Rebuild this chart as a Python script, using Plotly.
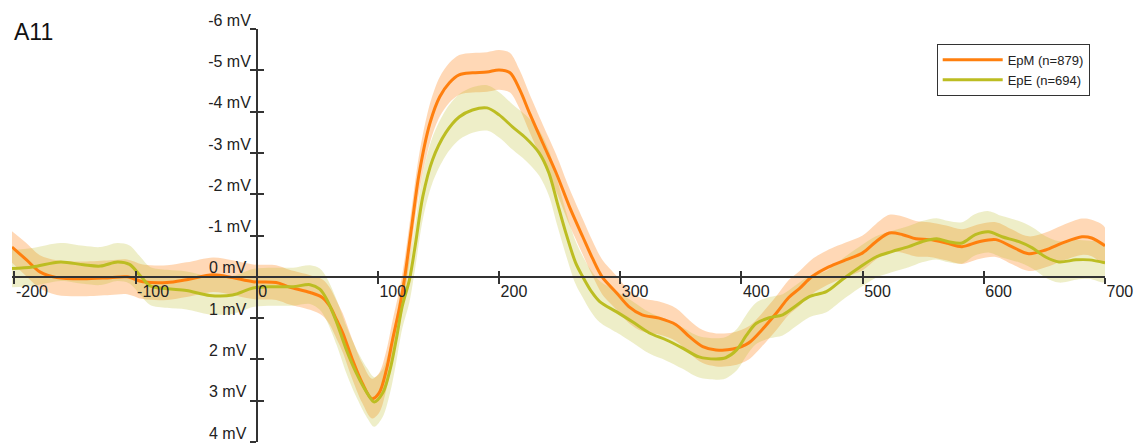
import plotly.graph_objects as go

# ---------------- data ----------------
x_range = [-202, 700]
y_range = [4, -6]          # inverted: negative up
x_ticks = [-200, -100, 0, 100, 200, 300, 400, 500, 600, 700]
x_tick_text = ["-200", "-100", "0", "100", "200", "300", "400", "500", "600", "700"]
y_ticks = [-6, -5, -4, -3, -2, -1, 0, 1, 2, 3, 4]
y_tick_text = ["-6 mV", "-5 mV", "-4 mV", "-3 mV", "-2 mV", "-1 mV",
               "0 mV\u00a0", "1 mV\u00a0", "2 mV\u00a0", "3 mV\u00a0", "4 mV\u00a0"]

epm_name = "EpM (n=879)"
epm_t = [-202, -190, -179, -165, -143, -121, -107, -94, -74, -58, -36, -20, -3, 16, 27, 44, 54, 60, 66, 71,
         79, 87, 95, 101, 107, 112, 118, 122, 128, 134, 143, 151, 159, 167, 178, 190, 200, 209, 217, 225,
         236, 247, 258, 269, 277, 285, 297, 307, 318, 332, 346, 357, 368, 379, 393, 406, 417, 429, 439, 448,
         458, 472, 486, 500, 511, 522, 533, 544, 555, 569, 582, 596, 610, 623, 637, 651, 665, 681, 689, 700]
epm_mv = [-0.72, -0.41, -0.12, 0.02, 0.05, 0.02, 0.0, 0.12, 0.14, 0.07, -0.05, 0.02, 0.12, 0.14, 0.25, 0.38, 0.5, 0.7, 1.05, 1.36,
          2.01, 2.57, 2.95, 2.81, 2.25, 1.53, 0.72, 0.03, -1.25, -2.5, -3.73, -4.36, -4.70, -4.89, -4.94, -4.96, -5.01, -4.94, -4.53, -3.97,
          -3.24, -2.52, -1.70, -0.97, -0.45, 0.0, 0.39, 0.72, 0.92, 1.0, 1.16, 1.45, 1.69, 1.77, 1.75, 1.6, 1.28, 0.87, 0.5, 0.28,
          0.0, -0.24, -0.41, -0.58, -0.85, -1.06, -1.02, -0.92, -0.90, -0.82, -0.73, -0.85, -0.90, -0.73, -0.56, -0.65, -0.82, -0.97, -0.94, -0.75]
epm_sem = [0.38, 0.4, 0.4, 0.42, 0.42, 0.42, 0.42, 0.42, 0.42, 0.42, 0.42, 0.42, 0.42, 0.42, 0.42, 0.42, 0.44, 0.45, 0.46, 0.47,
           0.48, 0.48, 0.48, 0.48, 0.47, 0.46, 0.45, 0.45, 0.45, 0.46, 0.47, 0.48, 0.48, 0.48, 0.48, 0.48, 0.48, 0.48, 0.47, 0.46,
           0.45, 0.45, 0.44, 0.43, 0.42, 0.42, 0.41, 0.4, 0.4, 0.4, 0.4, 0.4, 0.4, 0.4, 0.4, 0.4, 0.4, 0.41, 0.42, 0.42,
           0.42, 0.42, 0.42, 0.42, 0.43, 0.44, 0.44, 0.43, 0.42, 0.42, 0.42, 0.42, 0.42, 0.42, 0.42, 0.42, 0.43, 0.44, 0.44, 0.44]

epe_name = "EpE (n=694)"
epe_t = [-202, -185, -162, -143, -129, -115, -105, -96, -88, -74, -58, -39, -20, -3, 13, 30, 44, 52, 58, 66,
         74, 82, 91, 97, 104, 110, 115, 120, 126, 131, 137, 145, 156, 167, 178, 190, 200, 211, 222, 233,
         241, 248, 255, 263, 269, 276, 283, 297, 310, 324, 338, 351, 365, 379, 387, 396, 404, 412, 423, 434,
         445, 456, 470, 483, 497, 511, 524, 538, 549, 561, 571, 582, 593, 604, 615, 629, 640, 651, 662, 676,
         687, 700]
epe_mv = [-0.2, -0.24, -0.36, -0.29, -0.26, -0.36, -0.3, -0.02, 0.22, 0.29, 0.33, 0.45, 0.44, 0.27, 0.24, 0.24, 0.19, 0.3, 0.56, 1.11,
          1.77, 2.32, 2.81, 3.03, 2.81, 2.25, 1.53, 0.72, 0.07, -0.8, -1.94, -2.83, -3.49, -3.87, -4.04, -4.09, -3.92, -3.63, -3.36, -3.0,
          -2.52, -1.79, -1.07, -0.35, 0.0, 0.35, 0.6, 0.85, 1.09, 1.36, 1.53, 1.72, 1.94, 1.99, 1.96, 1.77, 1.42, 1.13, 0.99, 0.92,
          0.70, 0.48, 0.36, 0.07, -0.22, -0.48, -0.61, -0.73, -0.85, -0.92, -0.85, -0.82, -1.02, -1.09, -0.97, -0.85, -0.70, -0.48, -0.36, -0.41,
          -0.41, -0.34]
epe_sem = [0.45, 0.46, 0.46, 0.46, 0.46, 0.46, 0.46, 0.46, 0.46, 0.46, 0.46, 0.46, 0.46, 0.46, 0.46, 0.46, 0.47, 0.5, 0.52, 0.55,
           0.57, 0.58, 0.6, 0.6, 0.58, 0.56, 0.55, 0.54, 0.54, 0.54, 0.55, 0.55, 0.55, 0.55, 0.55, 0.55, 0.55, 0.55, 0.55, 0.55,
           0.55, 0.55, 0.53, 0.52, 0.5, 0.5, 0.5, 0.5, 0.5, 0.5, 0.5, 0.5, 0.5, 0.5, 0.5, 0.5, 0.5, 0.5, 0.5, 0.5,
           0.5, 0.5, 0.5, 0.5, 0.5, 0.5, 0.5, 0.5, 0.5, 0.5, 0.5, 0.5, 0.5, 0.5, 0.5, 0.5, 0.5, 0.5, 0.5, 0.48,
           0.46, 0.46]

panel_title = "A11"

# ---------------- style ----------------
ORANGE = "#ff7f0e"
OLIVE = "#bcbd22"
ORANGE_FILL = "rgba(255,127,14,0.30)"
OLIVE_FILL = "rgba(188,189,34,0.25)"
AXIS_COLOR = "#333333"
FONT = "Arial, Liberation Sans, Helvetica, sans-serif"
SMOOTH = 0.9


def band(t, m, s):
    up = [a - b for a, b in zip(m, s)]
    lo = [a + b for a, b in zip(m, s)]
    return list(t) + list(t)[::-1], up + lo[::-1]


fig = go.Figure()

for t, m, s, fillc in [(epm_t, epm_mv, epm_sem, ORANGE_FILL), (epe_t, epe_mv, epe_sem, OLIVE_FILL)]:
    bx, by = band(t, m, s)
    fig.add_trace(go.Scatter(x=bx, y=by, fill="toself", fillcolor=fillc, mode="lines",
                             line=dict(width=0, shape="spline", smoothing=SMOOTH),
                             hoverinfo="skip", showlegend=False))

fig.add_trace(go.Scatter(x=epm_t, y=epm_mv, mode="lines", name=epm_name,
                         line=dict(color=ORANGE, width=3, shape="spline", smoothing=SMOOTH)))
fig.add_trace(go.Scatter(x=epe_t, y=epe_mv, mode="lines", name=epe_name,
                         line=dict(color=OLIVE, width=3, shape="spline", smoothing=SMOOTH)))

# invisible trace so the overlay axes (inner half of tick marks) are drawn
fig.add_trace(go.Scatter(x=[0], y=[0], xaxis="x2", yaxis="y2", mode="markers",
                         marker=dict(opacity=0), hoverinfo="skip", showlegend=False))

x_pos = (0 - y_range[0]) / (y_range[1] - y_range[0])   # paper fraction of y=0
y_pos = (0 - x_range[0]) / (x_range[1] - x_range[0])   # paper fraction of x=0

tickfont = dict(family=FONT, size=16, color="#222222")

# the page body adds an 8px offset, so the figure is 8px smaller than the window
fig.update_layout(
    width=1137, height=437,
    margin=dict(l=4, r=40, t=21, b=3, autoexpand=False),
    paper_bgcolor="white", plot_bgcolor="white",
    xaxis=dict(range=x_range, anchor="free", position=x_pos, showgrid=False, zeroline=False,
               automargin=False,
               showline=True, linecolor=AXIS_COLOR, linewidth=1.5,
               tickmode="array", tickvals=x_ticks, ticktext=x_tick_text,
               ticks="outside", ticklen=6, tickwidth=1.5, tickcolor=AXIS_COLOR,
               ticklabelposition="outside right", ticklabeloverflow="allow", tickfont=tickfont),
    yaxis=dict(range=y_range, anchor="free", position=y_pos, showgrid=False, zeroline=False,
               automargin=False,
               showline=True, linecolor=AXIS_COLOR, linewidth=1.5,
               tickmode="array", tickvals=y_ticks, ticktext=y_tick_text,
               ticks="outside", ticklen=6, tickwidth=1.5, tickcolor=AXIS_COLOR,
               ticklabelposition="outside top", ticklabelstandoff=2, ticklabelshift=-3,
               ticklabeloverflow="allow", tickfont=tickfont),
    xaxis2=dict(range=x_range, overlaying="x", anchor="free", position=x_pos, showgrid=False,
                automargin=False,
                zeroline=False, showline=False, tickmode="array", tickvals=x_ticks,
                ticks="inside", ticklen=6, tickwidth=1.5, tickcolor=AXIS_COLOR, showticklabels=False),
    yaxis2=dict(range=y_range, overlaying="y", anchor="free", position=y_pos, showgrid=False,
                automargin=False,
                zeroline=False, showline=False, tickmode="array", tickvals=y_ticks,
                ticks="inside", ticklen=6, tickwidth=1.5, tickcolor=AXIS_COLOR, showticklabels=False),
    legend=dict(x=0.986, y=0.964, xanchor="right", yanchor="top",
                bordercolor="#333333", borderwidth=1, bgcolor="white",
                font=dict(family=FONT, size=13, color="#222222"),
                tracegroupgap=0, itemwidth=60),
    showlegend=True,
    annotations=[dict(text=panel_title, xref="paper", yref="paper", x=0.0, y=0.993,
                      xanchor="left", yanchor="middle", showarrow=False,
                      font=dict(family=FONT, size=23, color="#111111"))],
)

fig.write_html("out.html")
